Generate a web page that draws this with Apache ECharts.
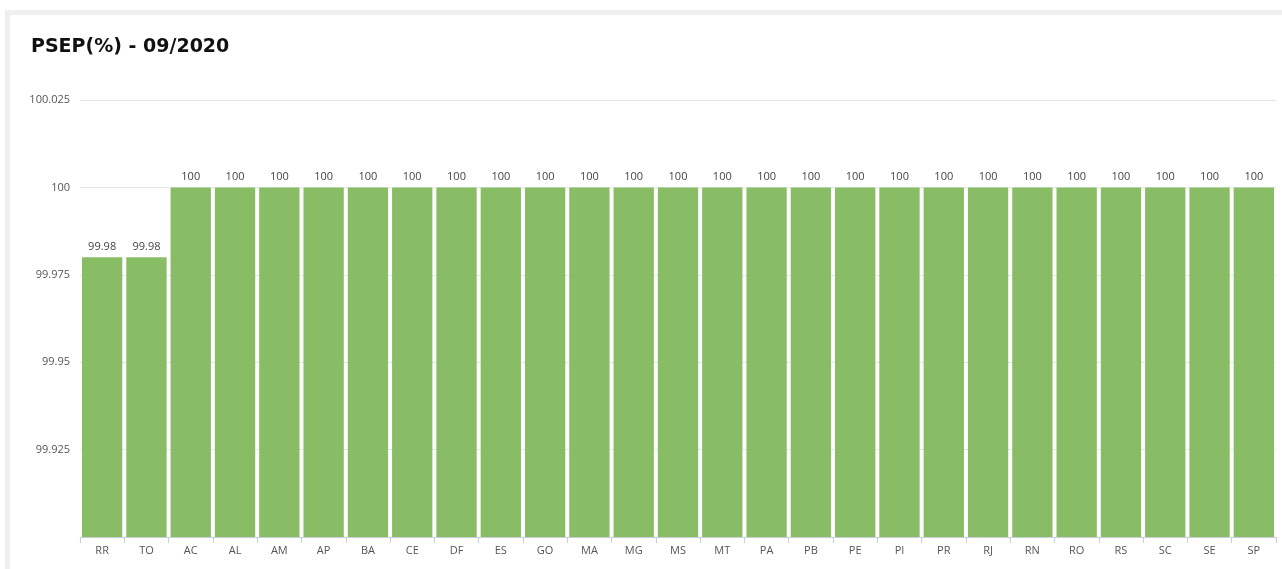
<!DOCTYPE html>
<html><head><meta charset="utf-8">
<script src="https://cdn.jsdelivr.net/npm/echarts@6/dist/echarts.min.js"></script>
<style>
html,body{margin:0;padding:0;background:#fff;width:1282px;height:569px;overflow:hidden;}
#frame{position:absolute;left:5px;top:10px;width:1290px;height:570px;background:#efefef;}
#chart{position:absolute;left:10px;top:15px;width:1272px;height:554px;background:#fff;}
</style></head>
<body>
<div id="frame"></div>
<div id="chart"></div>
<script>
const categories = ["RR","TO","AC","AL","AM","AP","BA","CE","DF","ES","GO","MA","MG","MS","MT","PA","PB","PE","PI","PR","RJ","RN","RO","RS","SC","SE","SP"];
const values = [99.98,99.98,100,100,100,100,100,100,100,100,100,100,100,100,100,100,100,100,100,100,100,100,100,100,100,100,100];
const titleText = "PSEP(%) - 09/2020";
const yMin = 99.9, yMax = 100.025, yStep = 0.025;

const chart = echarts.init(document.getElementById('chart'), null, {renderer:'canvas'});
const font = "'Open Sans', Lato, sans-serif";
chart.setOption({
  animation:false,
  textStyle:{fontFamily:font},
  title:{text:titleText,left:21,top:23,padding:0,textStyle:{fontFamily:"'DejaVu Sans', sans-serif",fontSize:19,fontWeight:'bold',color:'#111'}},
  grid:{left:70,right:6,top:85,bottom:32,containLabel:false},
  xAxis:{type:'category',data:categories,
    axisLine:{show:true,lineStyle:{color:'#c9ced8',width:1}},
    axisTick:{show:true,length:6,lineStyle:{color:'#c9ced8'}},
    axisLabel:{color:'#555',fontSize:11,fontFamily:font,margin:8}},
  yAxis:{type:'value',min:yMin,max:yMax,interval:yStep,
    axisLine:{show:false},axisTick:{show:false},
    splitLine:{lineStyle:{color:'#e3e6eb',width:1}},
    axisLabel:{showMinLabel:false,color:'#555',fontSize:11,fontFamily:font,margin:10,
      formatter:v=>String(parseFloat(v.toFixed(3)))}},
  series:[{type:'bar',data:values,barCategoryGap:'9%',
    itemStyle:{color:'#89bd65'},
    label:{show:true,position:'top',distance:5,color:'#444',fontSize:11,fontFamily:font}}]
});
</script>
</body></html>
